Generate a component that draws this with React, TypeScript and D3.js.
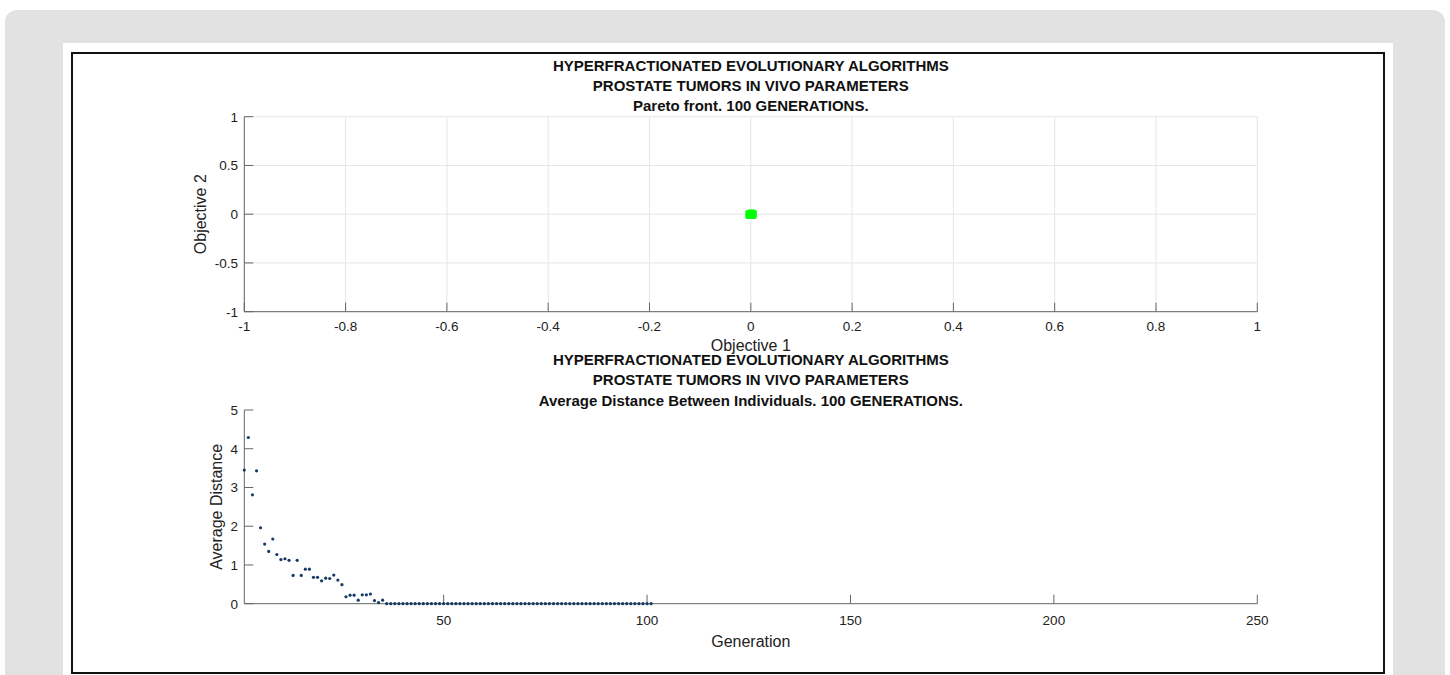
import React from "react";
import * as d3 from "d3";

const titleLines1 = [
  "HYPERFRACTIONATED EVOLUTIONARY ALGORITHMS",
  "PROSTATE TUMORS IN VIVO PARAMETERS",
  "Pareto front. 100 GENERATIONS.",
];
const titleLines2 = [
  "HYPERFRACTIONATED EVOLUTIONARY ALGORITHMS",
  "PROSTATE TUMORS IN VIVO PARAMETERS",
  "Average Distance Between Individuals. 100 GENERATIONS.",
];

const paretoObj1 = [0, 0.002, -0.002, 0.003];
const paretoObj2 = [0, 0.003, -0.002, -0.003];

const topXTicks = [-1, -0.8, -0.6, -0.4, -0.2, 0, 0.2, 0.4, 0.6, 0.8, 1];
const topYTicks = [-1, -0.5, 0, 0.5, 1];
const botXTicks = [50, 100, 150, 200, 250];
const botYTicks = [0, 1, 2, 3, 4, 5];

const earlyDistances = [
  3.45, 4.29, 2.81, 3.43, 1.96, 1.54, 1.35, 1.67, 1.27, 1.14,
  1.16, 1.12, 0.73, 1.12, 0.73, 0.89, 0.89, 0.68, 0.68, 0.59,
  0.66, 0.65, 0.74, 0.61, 0.49, 0.18, 0.22, 0.22, 0.09, 0.23,
  0.23, 0.25, 0.08, 0.03, 0.09,
];
const lateDistances = new Array(66).fill(0);
const avgDistance = [...earlyDistances, ...lateDistances];
const generations = avgDistance.map((_, i) => i + 1);

const FONT = "'Liberation Sans', Arial, Helvetica, sans-serif";
const AXIS = "#666";
const TEXT = "#222";

const fmt = (v: number) => String(v);

export default function App() {
  const left = 244.3;
  const right = 1257.3;

  const xTop = d3.scaleLinear().domain([-1, 1]).range([left, right]);
  const yTop = d3.scaleLinear().domain([-1, 1]).range([311.7, 116.7]);
  const xBot = d3.scaleLinear().domain([1, 250]).range([left, right]);
  const yBot = d3.scaleLinear().domain([0, 5]).range([603.7, 410]);

  const cx = (left + right) / 2;
  const tick = 9;
  const tf = 13.5;

  return (
    <div style={{ position: "absolute", left: 0, top: 0 }}>
      <svg width={1450} height={675} style={{ display: "block" }} fontFamily={FONT}>
        <rect x={0} y={0} width={1450} height={675} fill="#fff" />
        <rect x={5} y={10} width={1440} height={700} rx={12} fill="#e2e2e2" />
        <rect x={63} y={43} width={1330} height={640} fill="#fff" />
        <rect x={72} y={53} width={1312} height={620} fill="none" stroke="#111" strokeWidth={2} />

        {/* ---------- TOP PLOT ---------- */}
        {topXTicks.map((t) => (
          <line key={"gx" + t} x1={xTop(t)} x2={xTop(t)} y1={yTop(-1)} y2={yTop(1)} stroke="#e5e5e5" strokeWidth={1} />
        ))}
        {topYTicks.map((t) => (
          <line key={"gy" + t} x1={left} x2={right} y1={yTop(t)} y2={yTop(t)} stroke="#e5e5e5" strokeWidth={1} />
        ))}
        <line x1={left} x2={left} y1={yTop(-1)} y2={yTop(1)} stroke={AXIS} strokeWidth={1} />
        <line x1={left} x2={right} y1={yTop(-1)} y2={yTop(-1)} stroke={AXIS} strokeWidth={1} />
        {topXTicks.map((t) => (
          <g key={"tx" + t}>
            <line x1={xTop(t)} x2={xTop(t)} y1={yTop(-1)} y2={yTop(-1) - tick} stroke={AXIS} />
            <text x={xTop(t)} y={330.9} textAnchor="middle" fontSize={tf} fill={TEXT}>{fmt(t)}</text>
          </g>
        ))}
        {topYTicks.map((t) => (
          <g key={"ty" + t}>
            <line x1={left} x2={left + tick} y1={yTop(t)} y2={yTop(t)} stroke={AXIS} />
            <text x={238} y={yTop(t) + 4.8} textAnchor="end" fontSize={tf} fill={TEXT}>{fmt(t)}</text>
          </g>
        ))}
        {paretoObj1.map((v, i) => (
          <rect key={"p" + i} x={xTop(v) - 4.5} y={yTop(paretoObj2[i]) - 4.5} width={9} height={9} rx={2} fill="#00ff00" />
        ))}
        <text x={cx} y={350.5} textAnchor="middle" fontSize={16} fill={TEXT}>Objective 1</text>
        <text transform={`translate(206,${yTop(0)}) rotate(-90)`} textAnchor="middle" fontSize={16} fill={TEXT}>Objective 2</text>
        {titleLines1.map((s, i) => (
          <text key={"t1" + i} x={cx} y={71.4 + i * 20} textAnchor="middle" fontSize={15} fontWeight="bold" fill="#111">{s}</text>
        ))}

        {/* ---------- BOTTOM PLOT ---------- */}
        <line x1={left} x2={left} y1={yBot(0)} y2={yBot(5)} stroke={AXIS} strokeWidth={1} />
        <line x1={left} x2={right} y1={yBot(0)} y2={yBot(0)} stroke={AXIS} strokeWidth={1} />
        {botXTicks.map((t) => (
          <g key={"bx" + t}>
            <line x1={xBot(t)} x2={xBot(t)} y1={yBot(0)} y2={yBot(0) - tick} stroke={AXIS} />
            <text x={xBot(t)} y={624.9} textAnchor="middle" fontSize={tf} fill={TEXT}>{fmt(t)}</text>
          </g>
        ))}
        {botYTicks.map((t) => (
          <g key={"by" + t}>
            <line x1={left} x2={left + tick} y1={yBot(t)} y2={yBot(t)} stroke={AXIS} />
            <text x={238} y={yBot(t) + 4.8} textAnchor="end" fontSize={tf} fill={TEXT}>{fmt(t)}</text>
          </g>
        ))}
        {avgDistance.map((v, i) => (
          <circle key={"d" + i} cx={xBot(generations[i])} cy={yBot(v)} r={1.6} fill="#163a66" />
        ))}
        <text x={cx} y={646.7} textAnchor="middle" fontSize={16} fill={TEXT}>Generation</text>
        <text transform={`translate(222,${(yBot(0) + yBot(5)) / 2}) rotate(-90)`} textAnchor="middle" fontSize={16} fill={TEXT}>Average Distance</text>
        {titleLines2.map((s, i) => (
          <text key={"t2" + i} x={cx} y={364.5 + i * 20.5} textAnchor="middle" fontSize={15} fontWeight="bold" fill="#111">{s}</text>
        ))}
      </svg>
    </div>
  );
}
